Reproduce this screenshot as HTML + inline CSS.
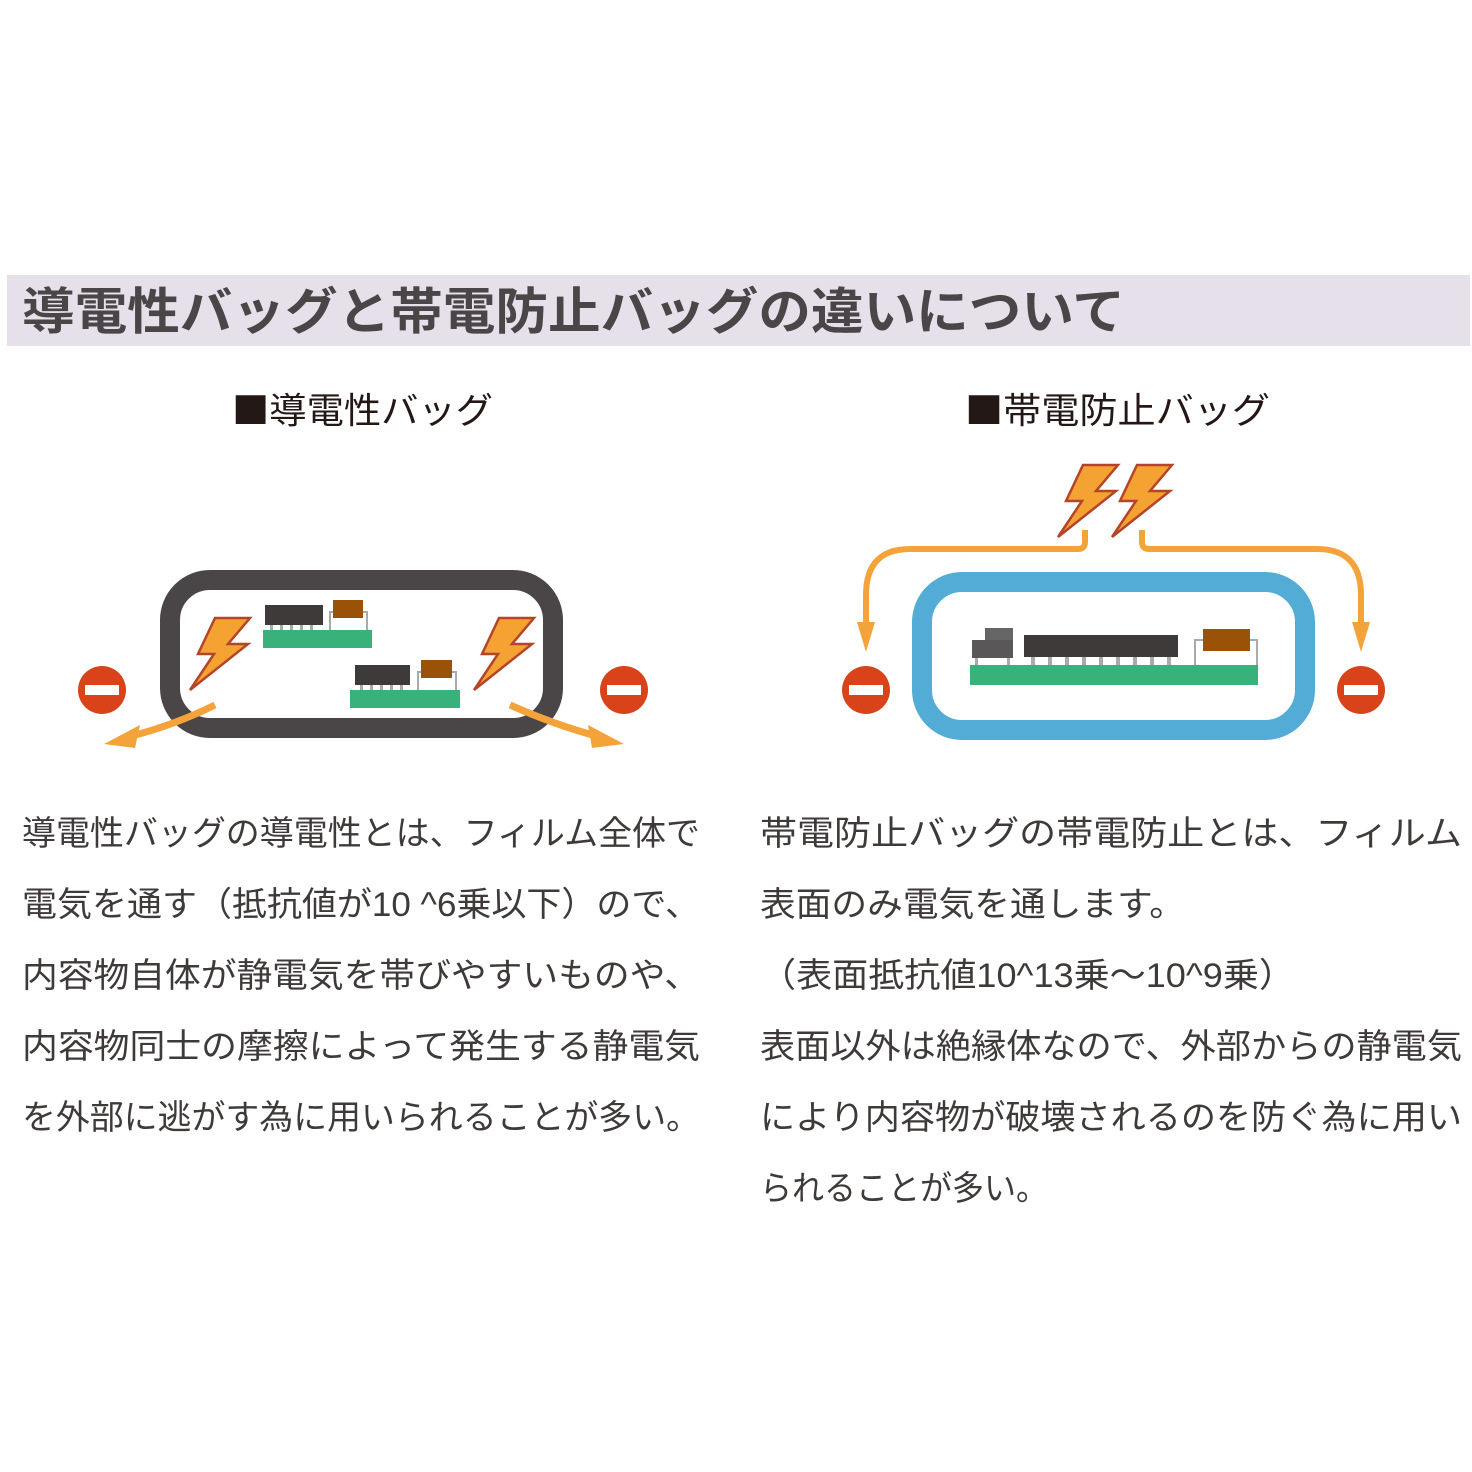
<!DOCTYPE html>
<html><head><meta charset="utf-8"><style>
html,body{margin:0;padding:0;background:#fff}
svg{display:block}
text{font-family:"Liberation Sans","Noto Sans CJK JP",sans-serif}
.cj{font-family:"Noto Sans CJK JP",sans-serif}
</style></head><body>
<svg width="1472" height="1472" viewBox="0 0 1472 1472" xmlns="http://www.w3.org/2000/svg">
<defs>
<path id="bolt" d="M25,0 L60,0 L38,26 L58,26 L0,72 L24,36 L8,36 Z" fill="#f4a232" stroke="#b5452a" stroke-width="2.5" stroke-linejoin="miter"/>
<g id="minus"><circle r="24" fill="#d9431a"/><rect x="-17" y="-5" width="34" height="10" fill="#fff"/></g>
</defs>
<rect x="7" y="275" width="1463" height="71" fill="#e6e0eb"/>
<text x="22" y="329" font-size="50" font-weight="bold" fill="#4a4546" textLength="1103" lengthAdjust="spacingAndGlyphs">導電性バッグと帯電防止バッグの違いについて</text>

<text class="cj" x="232" y="423" font-size="36" fill="#231815" textLength="261" lengthAdjust="spacingAndGlyphs">■導電性バッグ</text>
<text class="cj" x="965" y="423" font-size="36" fill="#231815" textLength="305" lengthAdjust="spacingAndGlyphs">■帯電防止バッグ</text>

<!-- left diagram -->
<rect x="170" y="580" width="383" height="148" rx="40" fill="#fff" stroke="#4a4546" stroke-width="20"/>
<g fill="#aaa"><rect x="329" y="612" width="2" height="20"/><rect x="366" y="612" width="2" height="20"/><rect x="329" y="611" width="39" height="2"/></g>
<rect x="265" y="605" width="58" height="20" fill="#3e3a39"/>
<g fill="#aaa"><rect x="270" y="625" width="3" height="5"/><rect x="280" y="625" width="3" height="5"/><rect x="290" y="625" width="3" height="5"/><rect x="300" y="625" width="3" height="5"/><rect x="310" y="625" width="3" height="5"/></g>
<rect x="333" y="600" width="30" height="18" fill="#9a5208"/>
<rect x="263" y="630" width="109" height="18" fill="#38b27a"/>
<g fill="#aaa"><rect x="417" y="672" width="2" height="20"/><rect x="455" y="672" width="2" height="20"/><rect x="417" y="671" width="40" height="2"/></g>
<rect x="355" y="665" width="55" height="20" fill="#3e3a39"/>
<g fill="#aaa"><rect x="360" y="685" width="3" height="5"/><rect x="370" y="685" width="3" height="5"/><rect x="380" y="685" width="3" height="5"/><rect x="390" y="685" width="3" height="5"/><rect x="400" y="685" width="3" height="5"/></g>
<rect x="421" y="660" width="31" height="18" fill="#9a5208"/>
<rect x="350" y="690" width="110" height="18" fill="#38b27a"/>
<use href="#bolt" transform="translate(190,618)"/>
<use href="#bolt" transform="translate(474,618)"/>
<use href="#minus" transform="translate(102,690)"/>
<use href="#minus" transform="translate(624,690)"/>
<path d="M215,705 Q175,725 128,737" fill="none" stroke="#f3a33a" stroke-width="7"/>
<path d="M104,744 L140,725 L135,748 Z" fill="#f3a33a"/>
<path d="M510,705 Q555,725 600,737" fill="none" stroke="#f3a33a" stroke-width="7"/>
<path d="M624,744 L588,725 L592,748 Z" fill="#f3a33a"/>

<!-- right diagram -->
<path d="M1085,530 V542 Q1085,549 1078,549 H910 Q866,549 866,595 V625" fill="none" stroke="#f3a33a" stroke-width="6"/>
<path d="M857,622 L875,622 L866,652 Z" fill="#f3a33a"/>
<path d="M1142,530 V542 Q1142,549 1149,549 H1317 Q1361,549 1361,595 V625" fill="none" stroke="#f3a33a" stroke-width="6"/>
<path d="M1352,622 L1370,622 L1361,652 Z" fill="#f3a33a"/>
<rect x="922" y="582" width="383" height="148" rx="40" fill="#fff" stroke="#52acd5" stroke-width="20"/>
<rect x="985" y="628" width="28" height="14" fill="#666"/>
<rect x="972" y="640" width="41" height="18" fill="#5a5758"/>
<rect x="1024" y="635" width="154" height="22" fill="#3e3a39"/>
<g fill="#aaa">
<rect x="975" y="658" width="3" height="7"/><rect x="1007" y="658" width="3" height="7"/>
<rect x="1031" y="657" width="4" height="8"/><rect x="1048" y="657" width="4" height="8"/><rect x="1065" y="657" width="4" height="8"/><rect x="1082" y="657" width="4" height="8"/><rect x="1099" y="657" width="4" height="8"/><rect x="1116" y="657" width="4" height="8"/><rect x="1133" y="657" width="4" height="8"/><rect x="1150" y="657" width="4" height="8"/><rect x="1167" y="657" width="4" height="8"/>
<rect x="1194" y="640" width="2" height="25"/><rect x="1256" y="640" width="2" height="25"/><rect x="1194" y="639" width="64" height="2"/>
</g>
<rect x="1203" y="629" width="47" height="22" fill="#9a5208"/>
<rect x="970" y="665" width="288" height="20" fill="#38b27a"/>
<use href="#bolt" transform="translate(1058,465)"/>
<use href="#bolt" transform="translate(1112,465)"/>
<use href="#minus" transform="translate(866,690)"/>
<use href="#minus" transform="translate(1361,690)"/>

<!-- text -->
<g font-size="34" fill="#3e3a39">
<text x="22" y="845" textLength="678" lengthAdjust="spacingAndGlyphs">導電性バッグの導電性とは、フィルム全体で</text>
<text x="22" y="916" textLength="678" lengthAdjust="spacingAndGlyphs">電気を通す（抵抗値が10 ^6乗以下）ので、</text>
<text x="22" y="987" textLength="678" lengthAdjust="spacingAndGlyphs">内容物自体が静電気を帯びやすいものや、</text>
<text x="22" y="1058" textLength="678" lengthAdjust="spacingAndGlyphs">内容物同士の摩擦によって発生する静電気</text>
<text x="22" y="1129" textLength="678" lengthAdjust="spacingAndGlyphs">を外部に逃がす為に用いられることが多い。</text>
<text x="760" y="845" textLength="702" lengthAdjust="spacingAndGlyphs">帯電防止バッグの帯電防止とは、フィルム</text>
<text x="760" y="916" textLength="425" lengthAdjust="spacingAndGlyphs">表面のみ電気を通します。</text>
<text x="760" y="987" textLength="535" lengthAdjust="spacingAndGlyphs">（表面抵抗値10^13乗～10^9乗）</text>
<text x="760" y="1058" textLength="702" lengthAdjust="spacingAndGlyphs">表面以外は絶縁体なので、外部からの静電気</text>
<text x="760" y="1129" textLength="702" lengthAdjust="spacingAndGlyphs">により内容物が破壊されるのを防ぐ為に用い</text>
<text x="760" y="1200" textLength="288" lengthAdjust="spacingAndGlyphs">られることが多い。</text>
</g>
</svg>
</body></html>
